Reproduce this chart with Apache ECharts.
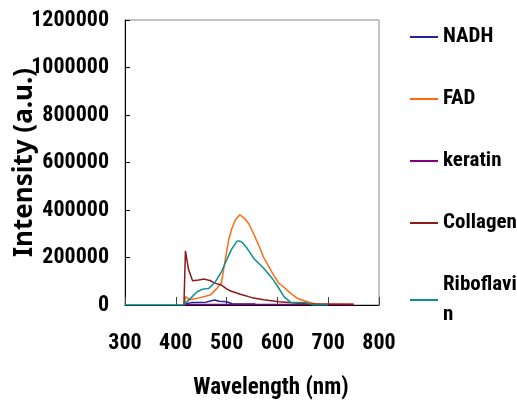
<!DOCTYPE html>
<html>
<head>
<meta charset="utf-8">
<script src="https://cdn.jsdelivr.net/npm/echarts@6/dist/echarts.min.js"></script>
<style>
  html, body { margin: 0; padding: 0; background: #fff; }
  #main { width: 517px; height: 400px; }
</style>
</head>
<body>
<div id="main"></div>
<script>
// values (wavelength nm, intensity a.u.)
var nadhX = [416, 420, 433, 460, 470, 477, 485, 500, 511, 557];
var nadhY = [0, 5000, 11000, 12000, 18000, 21000, 16000, 14000, 5000, 4000];

var fadX = [417, 419, 428, 448, 468, 481, 490, 495, 504, 510, 517, 526, 535, 544, 553, 563, 573, 590, 603, 610, 626, 642, 659, 675, 750];
var fadY = [0, 35000, 22000, 31000, 42000, 70000, 95000, 160000, 274000, 320000, 358000, 380000, 365000, 341000, 300000, 253000, 200000, 135000, 91000, 80000, 49000, 25000, 14000, 4000, 3000];

var keratinX = [416, 420, 500, 600, 680, 750];
var keratinY = [0, 2000, 2000, 2000, 2000, 1000];

var collagenX = [416, 419, 425, 433, 445, 456, 467, 478, 490, 500, 508, 527, 550, 573, 603, 630, 659, 750];
var collagenY = [0, 228000, 150000, 102000, 105000, 109000, 103000, 91000, 84000, 68000, 59000, 45000, 31000, 22000, 14000, 9000, 4000, 3000];

var riboX = [300, 415, 420, 430, 442, 452, 465, 478, 490, 500, 510, 520, 525, 530, 540, 553, 573, 590, 600, 613, 626, 655, 672, 700];
var riboY = [0, 0, 10000, 30000, 56000, 66000, 70000, 98000, 140000, 190000, 235000, 268000, 270000, 265000, 240000, 197000, 155000, 112000, 80000, 35000, 11000, 11000, 0, 0];

var names = ['NADH', 'FAD', 'keratin', 'Collagen', 'Riboflavin'];
var colors = ['#22229a', '#ff6a10', '#800080', '#8b1a1a', '#0f8f8f'];

function pairs(xs, ys) {
    return xs.map(function (x, i) { return [x, ys[i]]; });
}

var narrow = { fontFamily: "'Roboto Condensed'", fontWeight: 'bold', color: '#000' };

window.addEventListener('load', function () {
    var myChart = echarts.init(document.getElementById('main'));

    var allData = [
        pairs(nadhX, nadhY),
        pairs(fadX, fadY),
        pairs(keratinX, keratinY),
        pairs(collagenX, collagenY),
        pairs(riboX, riboY)
    ];

    var option = {
        animation: false,
        grid: {
            left: 125, right: 138, top: 20, bottom: 95,
            outerBoundsMode: 'none',
            show: true, borderColor: '#888', borderWidth: 1
        },
        legend: {
            orient: 'vertical',
            left: 410,
            top: 22,
            padding: 0,
            icon: 'rect',
            itemWidth: 28,
            itemHeight: 2,
            itemGap: 32,
            data: names,
            textStyle: Object.assign({}, narrow, {
                fontSize: 21, lineHeight: 30, width: 77, overflow: 'breakAll'
            })
        },
        xAxis: {
            type: 'value',
            min: 300, max: 800, interval: 100,
            name: 'Wavelength (nm)',
            nameLocation: 'middle',
            nameGap: 72,
            nameMoveOverlap: false,
            nameTextStyle: Object.assign({}, narrow, { fontSize: 23, padding: [0, 0, 0, 38] }),
            axisLine: { lineStyle: { color: '#000', width: 1 } },
            axisTick: { inside: true, length: 8, lineStyle: { color: '#444' } },
            axisLabel: Object.assign({}, narrow, {
                fontSize: 22,
                margin: 27,
                formatter: function (v) { return String(v); }
            }),
            splitLine: { show: false }
        },
        yAxis: {
            type: 'value',
            min: 0, max: 1200000, interval: 200000,
            name: 'Intensity (a.u.)',
            nameLocation: 'middle',
            nameGap: 87,
            nameMoveOverlap: false,
            nameTextStyle: {
                fontFamily: "'Noto Sans'", fontWeight: 'bold', fontSize: 26, color: '#000'
            },
            axisLine: { show: true, lineStyle: { color: '#000', width: 1 } },
            axisTick: { show: true, inside: true, length: 5, lineStyle: { color: '#000' } },
            axisLabel: Object.assign({}, narrow, {
                fontSize: 22,
                margin: 16,
                formatter: function (v) { return String(v); }
            }),
            splitLine: { show: false }
        },
        series: names.map(function (n, i) {
            return {
                name: n,
                type: 'line',
                symbol: 'none',
                color: colors[i],
                lineStyle: { width: 1.5, color: colors[i] },
                data: allData[i]
            };
        })
    };

    myChart.setOption(option);
});
</script>
</body>
</html>
